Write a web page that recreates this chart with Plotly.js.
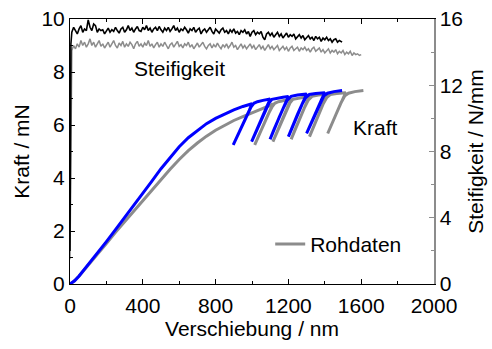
<!DOCTYPE html>
<html>
<head>
<meta charset="utf-8">
<script src="https://cdn.plot.ly/plotly-3.0.1.min.js"></script>
<style>html,body{margin:0;padding:0;background:#fff}#chart{width:492px;height:349px}</style>
</head>
<body>
<div id="chart"></div>
<script>
// Corrected force curve (blue): main loading
const blueLoadX = [0,25,50,100,150,200,250,300,350,400,450,500,550,600,650,700,750,800,850,900,950,1000];
const blueLoadF = [0,0.12,0.3,0.72,1.15,1.6,2.05,2.5,2.95,3.42,3.88,4.35,4.78,5.18,5.52,5.8,6.05,6.25,6.42,6.57,6.7,6.8];
// Corrected force curve (blue): unload/reload cycles
const blueCycleX = [985,950,920,897, 920,950,975,995,1010,1030,1060,1100,
  1085,1050,1020,998, 1020,1050,1075,1095,1110,1140,1170,1200,
  1185,1150,1120,1099, 1120,1150,1175,1195,1215,1250,1300,
  1285,1250,1220,1200, 1220,1250,1275,1295,1315,1350,1400,
  1385,1350,1320,1300, 1320,1350,1375,1395,1415,1450,1495];
const blueCycleF = [6.55,6.02,5.6,5.25, 5.6,6.05,6.42,6.68,6.82,6.88,6.93,6.98,
  6.75,6.2,5.72,5.37, 5.72,6.2,6.58,6.85,6.97,7.02,7.05,7.08,
  6.85,6.3,5.82,5.46, 5.82,6.3,6.68,6.95,7.08,7.13,7.17,
  6.95,6.4,5.9,5.56, 5.9,6.4,6.78,7.03,7.15,7.19,7.22,
  7.0,6.48,6.0,5.68, 6.0,6.48,6.85,7.1,7.2,7.26,7.3];
// Raw data (gray): main loading
const grayLoadX = [0,25,50,100,150,200,250,300,350,400,450,500,550,600,650,700,750,800,850,900,950,1000,1050,1100,1115];
const grayLoadF = [0,0.12,0.3,0.7,1.1,1.53,1.95,2.35,2.75,3.15,3.55,3.95,4.33,4.7,5.03,5.32,5.58,5.8,6.0,6.17,6.32,6.45,6.6,6.74,6.8];
// Raw data (gray): unload/reload cycles
const grayCycleX = [1100,1065,1037,1015, 1037,1066,1090,1110,1125,1145,1175,1215,
  1200,1165,1136,1115, 1136,1165,1190,1210,1225,1255,1285,1315,
  1300,1265,1236,1215, 1236,1265,1290,1310,1330,1365,1415,
  1400,1365,1336,1316, 1336,1365,1390,1410,1430,1465,1515,
  1500,1465,1436,1416, 1436,1465,1490,1510,1530,1565,1612];
const grayCycleF = [6.55,6.02,5.6,5.25, 5.6,6.05,6.42,6.68,6.82,6.88,6.93,6.98,
  6.75,6.2,5.72,5.37, 5.72,6.2,6.58,6.85,6.97,7.02,7.05,7.08,
  6.85,6.3,5.82,5.46, 5.82,6.3,6.68,6.95,7.08,7.13,7.17,
  6.95,6.4,5.9,5.56, 5.9,6.4,6.78,7.03,7.15,7.19,7.22,
  7.0,6.48,6.0,5.68, 6.0,6.48,6.85,7.1,7.2,7.26,7.3];
// Stiffness (black, corrected)
const stiffBlackX = [0,5,10,20,30,40,50,60,70,80,90,100,110,120,130,140,150,160,170,180,190,200,210,220,230,240,250,260,270,280,290,300,310,320,330,340,350,360,370,380,390,400,410,420,430,440,450,460,470,480,490,500,510,520,530,540,550,560,570,580,590,600,610,620,630,640,650,660,670,680,690,700,710,720,730,740,750,760,770,780,790,800,810,820,830,840,850,860,870,880,890,900,910,920,930,940,950,960,970,980,990,1000,1010,1020,1030,1040,1050,1060,1070,1080,1090,1100,1110,1120,1130,1140,1150,1160,1170,1180,1190,1200,1210,1220,1230,1240,1250,1260,1270,1280,1290,1300,1310,1320,1330,1340,1350,1360,1370,1380,1390,1400,1410,1420,1430,1440,1450,1460,1470,1480,1490,1495];
const stiffBlackS = [2.0,14.5,15.2,15.5,15.3,15.1,15.4,15.6,15.2,15.4,15.3,15.95,15.5,15.3,15.7,15.6,15.2,15.4,15.3,15.35,15.1,15.3,15.45,15.2,15.35,15.25,15.5,15.3,15.15,15.4,15.5,15.2,15.35,15.6,15.3,15.45,15.2,15.4,15.55,15.3,15.25,15.5,15.35,15.6,15.3,15.45,15.2,15.4,15.5,15.3,15.55,15.35,15.2,15.45,15.3,15.5,15.25,15.4,15.6,15.3,15.45,15.2,15.4,15.3,15.5,15.35,15.15,15.4,15.3,15.5,15.2,15.35,15.45,15.1,15.3,15.4,15.2,15.35,15.5,15.25,15.1,15.4,15.3,15.15,15.35,15.45,15.2,15.3,15.1,15.35,15.2,15.4,15.15,15.25,15.05,15.3,15.2,15.35,15.1,15.25,14.95,15.2,15.3,15.05,15.2,15.1,15.25,14.9,14.75,15.1,15.2,15.0,15.15,14.9,15.05,15.2,14.95,15.1,14.85,15.0,15.15,14.9,15.05,14.95,15.1,14.8,14.95,15.05,14.85,15.0,14.75,14.9,15.0,14.8,14.9,14.7,14.95,14.8,14.9,14.65,14.85,14.75,14.9,14.7,14.8,14.6,14.75,14.8,14.6,14.7,14.65,14.6];
// Stiffness (gray, raw)
const stiffGrayX = [0,6,10,20,30,40,50,60,70,80,90,100,110,120,130,140,150,160,170,180,190,200,210,220,230,240,250,260,270,280,290,300,310,320,330,340,350,360,370,380,390,400,410,420,430,440,450,460,470,480,490,500,510,520,530,540,550,560,570,580,590,600,610,620,630,640,650,660,670,680,690,700,710,720,730,740,750,760,770,780,790,800,810,820,830,840,850,860,870,880,890,900,910,920,930,940,950,960,970,980,990,1000,1010,1020,1030,1040,1050,1060,1070,1080,1090,1100,1110,1120,1130,1140,1150,1160,1170,1180,1190,1200,1210,1220,1230,1240,1250,1260,1270,1280,1290,1300,1310,1320,1330,1340,1350,1360,1370,1380,1390,1400,1410,1420,1430,1440,1450,1460,1470,1480,1490,1500,1510,1520,1530,1540,1550,1560,1570,1580,1590,1600];
const stiffGrayS = [1.5,13.6,14.1,14.4,14.2,14.5,14.3,14.7,14.4,14.6,14.3,14.5,14.8,14.4,14.6,14.3,14.55,14.7,14.35,14.5,14.25,14.45,14.6,14.3,14.5,14.7,14.4,14.25,14.55,14.4,14.65,14.3,14.5,14.35,14.6,14.45,14.2,14.5,14.65,14.35,14.5,14.3,14.55,14.4,14.7,14.35,14.5,14.25,14.45,14.6,14.3,14.5,14.35,14.6,14.4,14.2,14.45,14.55,14.3,14.5,14.65,14.35,14.45,14.25,14.5,14.4,14.6,14.3,14.45,14.2,14.4,14.55,14.3,14.45,14.6,14.35,14.2,14.4,14.5,14.25,14.45,14.3,14.55,14.35,14.2,14.45,14.3,14.5,14.25,14.4,14.6,14.3,14.4,14.15,14.35,14.5,14.25,14.4,14.2,14.35,14.5,14.25,14.4,14.15,14.3,14.45,14.2,14.35,14.1,14.3,14.45,14.2,14.35,14.15,14.3,14.4,14.1,14.25,14.35,14.15,14.3,14.05,14.25,14.35,14.1,14.2,14.3,14.05,14.25,14.15,14.3,14.1,14.2,14.0,14.2,14.3,14.05,14.15,14.25,14.0,14.15,13.95,14.1,14.2,13.95,14.1,14.0,14.15,13.9,14.05,13.95,14.1,13.85,14.0,13.9,14.05,13.8,13.95,13.85,13.9,13.8,13.85];

const FONT = 'Arial, "Liberation Sans", sans-serif';
const GRAY = '#8c8c8c';

const traces = [
  {x: stiffGrayX, y: stiffGrayS, yaxis: 'y2', mode: 'lines', line: {color: GRAY, width: 1.5}, showlegend: false},
  {x: stiffBlackX, y: stiffBlackS, yaxis: 'y2', mode: 'lines', line: {color: '#000000', width: 1.6}, showlegend: false},
  {x: grayLoadX.concat(grayCycleX), y: grayLoadF.concat(grayCycleF), mode: 'lines', name: 'Rohdaten',
   line: {color: GRAY, width: 3}, showlegend: true},
  {x: blueLoadX.concat(blueCycleX), y: blueLoadF.concat(blueCycleF), mode: 'lines',
   line: {color: '#0000ff', width: 3}, showlegend: false}
];

const layout = {
  width: 492, height: 349,
  margin: {l: 70, r: 58, t: 19, b: 65},
  paper_bgcolor: '#ffffff', plot_bgcolor: '#ffffff',
  font: {family: FONT, size: 21, color: '#000'},
  hovermode: false,
  xaxis: {
    range: [0, 2000], dtick: 400, tick0: 0, showgrid: false, zeroline: false,
    showline: true, linecolor: '#000', linewidth: 1, mirror: 'ticks',
    ticks: 'inside', ticklen: 5, tickcolor: '#000', ticklabelstandoff: 3,
    minor: {dtick: 200, ticks: 'inside', ticklen: 3, tickcolor: '#000'},
    tickfont: {family: FONT, size: 21},
    title: {text: 'Verschiebung / nm', font: {family: FONT, size: 21}, standoff: 5}
  },
  yaxis: {
    range: [0, 10], dtick: 2, tick0: 0, showgrid: false, zeroline: false,
    showline: true, linecolor: '#000', linewidth: 1,
    ticks: 'inside', ticklen: 5, tickcolor: '#000',
    minor: {dtick: 1, ticks: 'inside', ticklen: 3, tickcolor: '#000'},
    tickfont: {family: FONT, size: 21},
    title: {text: 'Kraft / mN', font: {family: FONT, size: 21}, standoff: 6}
  },
  yaxis2: {
    overlaying: 'y', side: 'right', range: [0, 16], dtick: 4, tick0: 0,
    showgrid: false, zeroline: false,
    showline: true, linecolor: GRAY, linewidth: 1.5,
    ticks: 'inside', ticklen: 5, tickcolor: GRAY,
    minor: {dtick: 2, ticks: 'inside', ticklen: 3, tickcolor: GRAY},
    tickfont: {family: FONT, size: 21, color: '#000'},
    title: {text: 'Steifigkeit / N/mm', font: {family: FONT, size: 21}, standoff: 6}
  },
  showlegend: true,
  legend: {x: 0.55, y: 0.15, xanchor: 'left', yanchor: 'middle', bgcolor: 'rgba(0,0,0,0)',
           font: {family: FONT, size: 21}, borderwidth: 0},
  annotations: [
    {x: 604, y: 8.15, xref: 'x', yref: 'y', text: 'Steifigkeit', showarrow: false, font: {family: FONT, size: 21}},
    {x: 1681, y: 5.92, xref: 'x', yref: 'y', text: 'Kraft', showarrow: false, font: {family: FONT, size: 21}}
  ]
};

Plotly.newPlot('chart', traces, layout, {staticPlot: true, displayModeBar: false});
</script>
</body>
</html>
